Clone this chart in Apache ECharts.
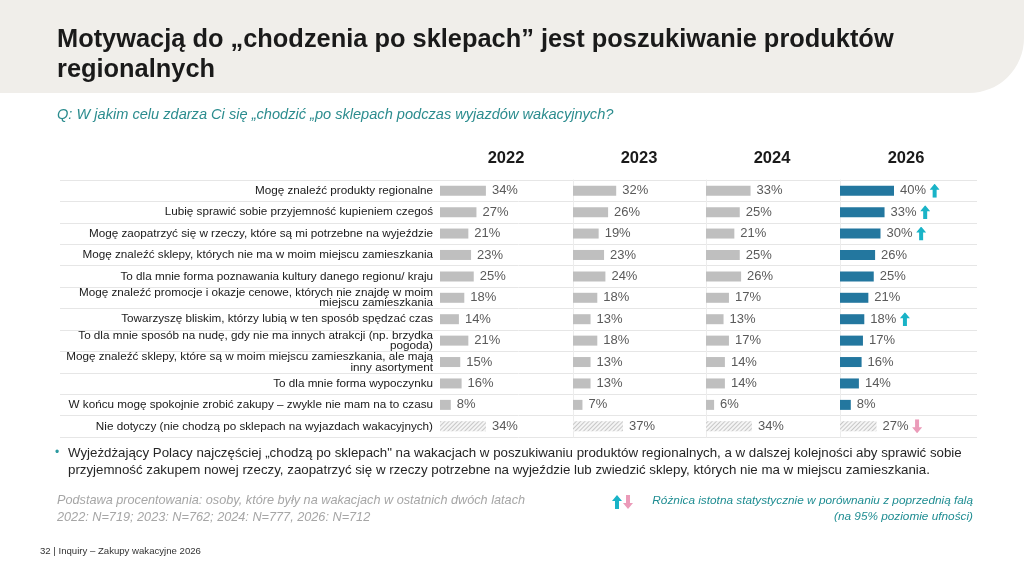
<!DOCTYPE html>
<html>
<head>
    <meta charset="utf-8">
    <title>Zakupy wakacyjne</title>
    <script src="https://cdn.jsdelivr.net/npm/echarts@6/dist/echarts.min.js"></script>
    <style>
        html, body { margin: 0; padding: 0; background: #fff; }
        #main { width: 1024px; height: 576px; }
    </style>
</head>
<body>
    <div id="main"></div>
    <script type="text/javascript">
        // data
        var categories = [
            'Mogę znaleźć produkty regionalne',
            'Lubię sprawić sobie przyjemność kupieniem czegoś',
            'Mogę zaopatrzyć się w rzeczy, które są mi potrzebne na wyjeździe',
            'Mogę znaleźć sklepy, których nie ma w moim miejscu zamieszkania',
            'To dla mnie forma poznawania kultury danego regionu/ kraju',
            'Mogę znaleźć promocje i okazje cenowe, których nie znajdę w moim\nmiejscu zamieszkania',
            'Towarzyszę bliskim, którzy lubią w ten sposób spędzać czas',
            'To dla mnie sposób na nudę, gdy nie ma innych atrakcji (np. brzydka\npogoda)',
            'Mogę znaleźć sklepy, które są w moim miejscu zamieszkania, ale mają\ninny asortyment',
            'To dla mnie forma wypoczynku',
            'W końcu mogę spokojnie zrobić zakupy – zwykle nie mam na to czasu',
            'Nie dotyczy (nie chodzą po sklepach na wyjazdach wakacyjnych)'
        ];
        var years = ['2022', '2023', '2024', '2026'];
        var v2022 = [34, 27, 21, 23, 25, 18, 14, 21, 15, 16, 8, 34];
        var v2023 = [32, 26, 19, 23, 24, 18, 13, 18, 13, 13, 7, 37];
        var v2024 = [33, 25, 21, 25, 26, 17, 13, 17, 14, 14, 6, 34];
        var v2026 = [40, 33, 30, 26, 25, 21, 18, 17, 16, 14, 8, 27];
        // significant change vs previous wave (2026 only)
        var sig2026 = ['up', 'up', 'up', '', '', '', 'up', '', '', '', '', 'down'];

        var allValues = [v2022, v2023, v2024, v2026];
        var hatchedIndex = 11;

        var FONT = '"Liberation Sans", Arial, sans-serif';
        var grey = '#bfbfbf';
        var blue = '#23779f';
        var upColor = '#19b3c7';
        var downColor = '#eb9bb9';

        function svgUrl(svg) {
            return 'data:image/svg+xml;utf8,' + encodeURIComponent(svg);
        }
        var upArrow = svgUrl('<svg xmlns="http://www.w3.org/2000/svg" width="10" height="14" viewBox="0 0 10 14">' +
            '<polygon points="5,0 10,6 7,6 7,14 3,14 3,6 0,6" fill="' + upColor + '"/></svg>');
        var downArrow = svgUrl('<svg xmlns="http://www.w3.org/2000/svg" width="10" height="14" viewBox="0 0 10 14">' +
            '<polygon points="5,14 10,8 7,8 7,0 3,0 3,8 0,8" fill="' + downColor + '"/></svg>');

        var myChart = echarts.init(document.getElementById('main'));

        var panelLeft = [440, 573, 706, 840];
        var panelWidth = 135;
        var gridTop = 180, gridHeight = 257;

        // two-line labels sit a little higher than centred in the slide
        var labelData = categories.map(function (c) {
            if (c.indexOf('\n') < 0) return c;
            return { value: c, textStyle: { padding: [0, 0, 7, 0] } };
        });

        var grids = [], xAxes = [], yAxes = [], series = [];

        // background grid only for row separator lines
        grids.push({ left: 60, width: 917, top: gridTop, height: gridHeight });
        xAxes.push({ gridIndex: 0, type: 'value', show: false, min: 0, max: 100 });
        yAxes.push({
            gridIndex: 0, type: 'category', inverse: true, data: categories,
            axisLine: { show: false }, axisTick: { show: false }, axisLabel: { show: false },
            splitLine: { show: true, lineStyle: { color: '#e6e6e6', width: 1 } }
        });

        years.forEach(function (yr, i) {
            var g = i + 1;
            grids.push({ left: panelLeft[i], width: panelWidth, top: gridTop, height: gridHeight });
            xAxes.push({ gridIndex: g, type: 'value', show: false, min: 0, max: 100 });
            yAxes.push({
                gridIndex: g, type: 'category', inverse: true,
                data: i === 0 ? labelData : categories,
                axisLine: { show: i > 0, lineStyle: { color: '#ececec' } },
                axisTick: { show: false },
                axisLabel: {
                    show: i === 0, margin: 7, fontSize: 11.7, lineHeight: 10.5,
                    color: '#1a1a1a', fontFamily: FONT, align: 'right'
                },
                splitLine: { show: false }
            });
            var isLast = i === 3;
            var data = allValues[i].map(function (v, k) {
                var item = { value: v };
                if (k === hatchedIndex) {
                    item.itemStyle = {
                        color: '#f5f5f5',
                        decal: {
                            symbol: 'rect', symbolSize: 1,
                            dashArrayX: [1, 0], dashArrayY: [1, 2],
                            rotation: -Math.PI / 4,
                            color: '#c8c8c8', backgroundColor: '#f5f5f5'
                        }
                    };
                }
                return item;
            });
            series.push({
                name: yr,
                type: 'bar',
                xAxisIndex: g,
                yAxisIndex: g,
                barWidth: 10,
                itemStyle: { color: isLast ? blue : grey },
                data: data,
                label: {
                    show: true, position: 'right', distance: 6,
                    fontFamily: FONT, fontSize: 13, color: '#5a5a5a',
                    formatter: function (p) {
                        var s = '{v|' + p.value + '%}';
                        if (isLast && sig2026[p.dataIndex] === 'up') s += ' {up|}';
                        if (isLast && sig2026[p.dataIndex] === 'down') s += ' {down|}';
                        return s;
                    },
                    rich: {
                        v: { fontFamily: FONT, fontSize: 13, color: '#5a5a5a' },
                        up: { width: 10, height: 14, backgroundColor: { image: upArrow } },
                        down: { width: 10, height: 14, backgroundColor: { image: downArrow } }
                    }
                }
            });
        });

        var graphics = [
            // header band
            { type: 'rect', left: 0, top: 0, shape: { width: 1024, height: 93, r: [0, 0, 55, 0] }, style: { fill: '#f0eeea' }, z: -10 },
            { type: 'text', left: 57, top: 27, style: { text: 'Motywacją do „chodzenia po sklepach” jest poszukiwanie produktów', font: 'bold 25.4px ' + FONT, fill: '#1a1a1a' } },
            { type: 'text', left: 57, top: 57, style: { text: 'regionalnych', font: 'bold 25.4px ' + FONT, fill: '#1a1a1a' } },
            { type: 'text', left: 57, top: 107, style: { text: 'Q: W jakim celu zdarza Ci się „chodzić „po sklepach podczas wyjazdów wakacyjnych?', font: 'italic 14.6px ' + FONT, fill: '#2b8c8e' } },
            // bullet text
            { type: 'text', left: 55, top: 447, style: { text: '•', font: '12px ' + FONT, fill: '#2b9aa0' } },
            { type: 'text', left: 68, top: 447, style: { text: 'Wyjeżdżający Polacy najczęściej „chodzą po sklepach" na wakacjach w poszukiwaniu produktów regionalnych, a w dalszej kolejności aby sprawić sobie', font: '13.3px ' + FONT, fill: '#262626' } },
            { type: 'text', left: 68, top: 464, style: { text: 'przyjemność zakupem nowej rzeczy, zaopatrzyć się w rzeczy potrzebne na wyjeździe lub zwiedzić sklepy, których nie ma w miejscu zamieszkania.', font: '13.3px ' + FONT, fill: '#262626' } },
            // base note
            { type: 'text', left: 57, top: 494, style: { text: 'Podstawa procentowania: osoby, które były na wakacjach w ostatnich dwóch latach', font: 'italic 12.7px ' + FONT, fill: '#a6a6a6' } },
            { type: 'text', left: 57, top: 511, style: { text: '2022: N=719; 2023: N=762; 2024: N=777, 2026: N=712', font: 'italic 12.7px ' + FONT, fill: '#a6a6a6' } },
            // significance legend
            { type: 'image', left: 612, top: 495, style: { image: upArrow, width: 10, height: 14 } },
            { type: 'image', left: 623, top: 495, style: { image: downArrow, width: 10, height: 14 } },
            { type: 'text', right: 51, top: 495, style: { text: 'Różnica istotna statystycznie w porównaniu z poprzednią falą', font: 'italic 11.8px ' + FONT, fill: '#1f8d92' } },
            { type: 'text', right: 51, top: 511, style: { text: '(na 95% poziomie ufności)', font: 'italic 11.8px ' + FONT, fill: '#1f8d92' } },
            // footer
            { type: 'text', left: 40, top: 546, style: { text: '32 | Inquiry – Zakupy wakacyjne 2026', font: '9.6px ' + FONT, fill: '#333' } }
        ];
        // year headers
        years.forEach(function (yr, i) {
            graphics.push({
                type: 'text', x: panelLeft[i] + 66, y: 158,
                style: { text: yr, font: 'bold 16.5px ' + FONT, fill: '#1a1a1a', align: 'center', verticalAlign: 'middle' }
            });
        });

        var option = {
            animation: false,
            grid: grids,
            xAxis: xAxes,
            yAxis: yAxes,
            series: series,
            graphic: graphics
        };

        myChart.setOption(option);
    </script>
</body>
</html>
